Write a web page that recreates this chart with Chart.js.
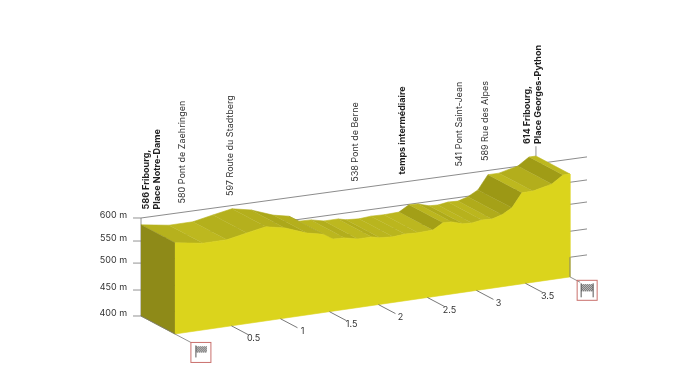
<!DOCTYPE html>
<html>
<head>
<meta charset="utf-8">
<style>
    html, body { margin: 0; padding: 0; background: #fff; }
    canvas { display: block; }
</style>
<script src="https://cdn.jsdelivr.net/npm/chart.js@4/dist/chart.umd.min.js"></script>
</head>
<body>
<canvas id="profileChart" width="680" height="382"></canvas>
<script>
// course profile
const profileKm = [-0.077, 0.209, 0.454, 0.658, 0.852, 1.046, 1.27, 1.434, 1.536, 1.658, 1.791, 1.934, 2.015, 2.148, 2.27, 2.403, 2.556, 2.658, 2.75, 2.862, 2.954, 3.056, 3.158, 3.26, 3.362, 3.464, 3.577, 3.77, 3.883, 3.954];
const profileElevation = [586, 577, 577, 585, 592, 584, 567, 560, 547, 546, 540, 540, 536, 534, 536, 535, 536, 548, 547, 540, 539, 542, 541, 547, 558, 586, 586, 595, 610, 610];
const kmTicks = [0.5, 1, 1.5, 2, 2.5, 3, 3.5];
const elevationTicks = [600, 550, 500, 450, 400];
// the wall lines in the picture are not evenly spaced
const elevationLevels = [600, 553, 508, 453, 400];
const waypointNames = [
    ['586 Fribourg,', 'Place Notre-Dame'],
    ['580 Pont de Zaehringen'],
    ['597 Route du Stadtberg'],
    ['538 Pont de Berne'],
    ['temps intermédiaire'],
    ['541 Pont Saint-Jean'],
    ['589 Rue des Alpes'],
    ['614 Fribourg,', 'Place Georges-Python']
];
const waypointKm = [-0.025, 0.342, 0.832, 2.107, 2.587, 3.168, 3.434, 3.861];
const waypointLevels = [616, 618, 620, 614, 616, 616, 620, 643];
const waypointBold = [true, false, false, false, true, false, false, true];

const climbPerKm = 28.9;
const wallClimbPerKm = 27.4;
const depthKm = -0.347;
const depthMetres = 36.7;
const baseElevation = 400;
const wallLeft = -0.423;
const wallRight = 4.128;
const fontName = 'Inter, "Open Sans", sans-serif';

// oblique projection into the chart's two linear scales
function project(km, metres, depth) {
    return {
        x: km + depth * depthKm,
        y: metres + km * climbPerKm + depth * depthMetres
    };
}

function wallPoint(x, level) {
    return { x: x, y: level + 34.5 + (x - wallLeft) * wallClimbPerKm };
}

function shape(points, color) {
    return {
        data: points,
        showLine: true,
        fill: 'shape',
        backgroundColor: color,
        borderColor: color,
        borderWidth: 0.6,
        pointRadius: 0,
        clip: false
    };
}

function stroke(points, color, width) {
    return {
        data: points,
        showLine: true,
        fill: false,
        borderColor: color,
        borderWidth: width,
        pointRadius: 0,
        clip: false
    };
}

function stripColor(i) {
    const slope = Math.abs((profileElevation[i + 1] - profileElevation[i]) / (profileKm[i + 1] - profileKm[i]));
    const t = Math.min(1, slope / 150);
    const r = Math.round(189 - t * 33);
    const g = Math.round(184 - t * 32);
    const b = Math.round(31 - t * 10);
    return `rgb(${r}, ${g}, ${b})`;
}

const datasets = [];
const lastKm = profileKm[profileKm.length - 1];
const firstKm = profileKm[0];
const lastElevation = profileElevation[profileElevation.length - 1];
const firstElevation = profileElevation[0];

// wall lines at the back
elevationLevels.forEach(level => {
    datasets.push(stroke([wallPoint(wallLeft, level), wallPoint(wallRight, level)], '#6f6f6f', 0.8));
});
datasets.push(stroke([wallPoint(wallLeft, 400), wallPoint(wallLeft, 600)], '#777', 0.8));

// top surface, one strip per stretch of road
for (let i = 0; i < profileKm.length - 1; i++) {
    datasets.push(shape([
        project(profileKm[i], profileElevation[i], 0),
        project(profileKm[i + 1], profileElevation[i + 1], 0),
        project(profileKm[i + 1], profileElevation[i + 1], 1),
        project(profileKm[i], profileElevation[i], 1)
    ], stripColor(i)));
}

// left end
datasets.push(shape([
    project(firstKm, firstElevation, 1),
    project(firstKm, firstElevation, 0),
    project(firstKm, baseElevation, 0),
    project(firstKm, baseElevation, 1)
], '#8e8a18'));

// front face
const frontPoints = profileKm.map((km, i) => project(km, profileElevation[i], 0));
frontPoints.push(project(lastKm, baseElevation, 0));
frontPoints.push(project(firstKm, baseElevation, 0));
datasets.push(shape(frontPoints, '#dbd41c'));

// edges and km ticks
datasets.push(stroke([project(firstKm, baseElevation, 1), project(firstKm, baseElevation, 0), project(firstKm, baseElevation, -0.47)], '#777', 0.8));
datasets.push(stroke([project(lastKm, baseElevation, 0), project(lastKm, baseElevation, -0.3)], '#777', 0.8));
datasets.push(stroke([project(lastKm, baseElevation, 0), wallPoint(project(lastKm, baseElevation, 0).x, 400)], '#777', 0.8));
kmTicks.forEach(km => {
    datasets.push(stroke([project(km, baseElevation, 0), project(km, baseElevation, -0.5)], '#555', 0.8));
});
// leader up to the finish label
datasets.push(stroke([
    project(lastKm, lastElevation, 1),
    { x: project(lastKm, lastElevation, 1).x, y: project(lastKm, lastElevation, 1).y + 20 }
], '#777', 0.8));

// later datasets must stay on top
datasets.forEach((d, i) => { d.order = datasets.length - i; });

function checker(ctx, x, y, w, h) {
    for (let cy = 0; cy < h; cy++) {
        for (let cx = 0; cx < w; cx++) {
            ctx.fillStyle = (cx + cy) % 2 === 0 ? '#3c3c3c' : '#b5b5b5';
            ctx.fillRect(x + cx, y + cy, 1, 1);
        }
    }
}

const textPlugin = {
    id: 'profileText',
    afterDatasetsDraw(chart) {
        const ctx = chart.ctx;
        const sx = chart.scales.x;
        const sy = chart.scales.y;
        ctx.save();

        // elevation labels
        ctx.fillStyle = '#333';
        ctx.font = '9px ' + fontName;
        ctx.textAlign = 'right';
        ctx.textBaseline = 'middle';
        ctx.strokeStyle = '#777';
        ctx.lineWidth = 0.8;
        elevationTicks.forEach((tick, i) => {
            const p = wallPoint(wallLeft, elevationLevels[i]);
            const px = sx.getPixelForValue(p.x);
            const py = sy.getPixelForValue(p.y);
            ctx.beginPath();
            ctx.moveTo(px - 8, py);
            ctx.lineTo(px, py);
            ctx.stroke();
            ctx.fillText(tick + ' m', px - 14, py - 2.5);
        });

        // km labels
        ctx.textAlign = 'center';
        kmTicks.forEach(km => {
            const p = project(km, baseElevation, -0.65);
            ctx.fillText(String(km), sx.getPixelForValue(p.x), sy.getPixelForValue(p.y) + 1);
        });

        // waypoint names, rotated
        ctx.textAlign = 'left';
        waypointNames.forEach((lines, i) => {
            const p = wallPoint(waypointKm[i] + depthKm, waypointLevels[i]);
            const px = sx.getPixelForValue(p.x);
            const py = sy.getPixelForValue(p.y);
            ctx.fillStyle = waypointBold[i] ? '#1f1f1f' : '#333';
            ctx.font = (waypointBold[i] ? '700 ' : '') + '9px ' + fontName;
            lines.forEach((line, n) => {
                ctx.save();
                ctx.translate(px + n * 11.5, py);
                ctx.rotate(-Math.PI / 2);
                ctx.fillText(line, 0, 0);
                ctx.restore();
            });
        });

        // start and finish boxes
        const start = project(firstKm, baseElevation, -0.47);
        const sbx = sx.getPixelForValue(start.x);
        const sby = sy.getPixelForValue(start.y);
        ctx.strokeStyle = '#c9706c';
        ctx.lineWidth = 1;
        ctx.strokeRect(sbx, sby, 20, 20);
        checker(ctx, sbx + 5, sby + 4, 11, 6);
        ctx.strokeStyle = '#555';
        ctx.beginPath();
        ctx.moveTo(sbx + 5, sby + 3);
        ctx.lineTo(sbx + 5, sby + 15);
        ctx.stroke();

        const finish = project(lastKm, baseElevation, -0.3);
        const fbx = sx.getPixelForValue(finish.x) - 3;
        const fby = sy.getPixelForValue(finish.y) - 2;
        ctx.strokeStyle = '#c9706c';
        ctx.strokeRect(fbx, fby, 20, 20);
        checker(ctx, fbx + 4, fby + 4, 12, 7);
        ctx.strokeStyle = '#555';
        ctx.beginPath();
        ctx.moveTo(fbx + 4, fby + 3);
        ctx.lineTo(fbx + 4, fby + 17);
        ctx.moveTo(fbx + 16, fby + 3);
        ctx.lineTo(fbx + 16, fby + 17);
        ctx.stroke();

        ctx.restore();
    }
};

new Chart(document.getElementById('profileChart').getContext('2d'), {
    type: 'scatter',
    data: { datasets: datasets },
    options: {
        responsive: false,
        animation: false,
        layout: { padding: 0 },
        plugins: {
            legend: { display: false },
            tooltip: { enabled: false },
            filler: { propagate: false }
        },
        scales: {
            x: { type: 'linear', display: false, min: -1.862, max: 5.077 },
            y: { type: 'linear', display: false, min: 299.8, max: 1079.4 }
        }
    },
    plugins: [textPlugin]
});
</script>
</body>
</html>
